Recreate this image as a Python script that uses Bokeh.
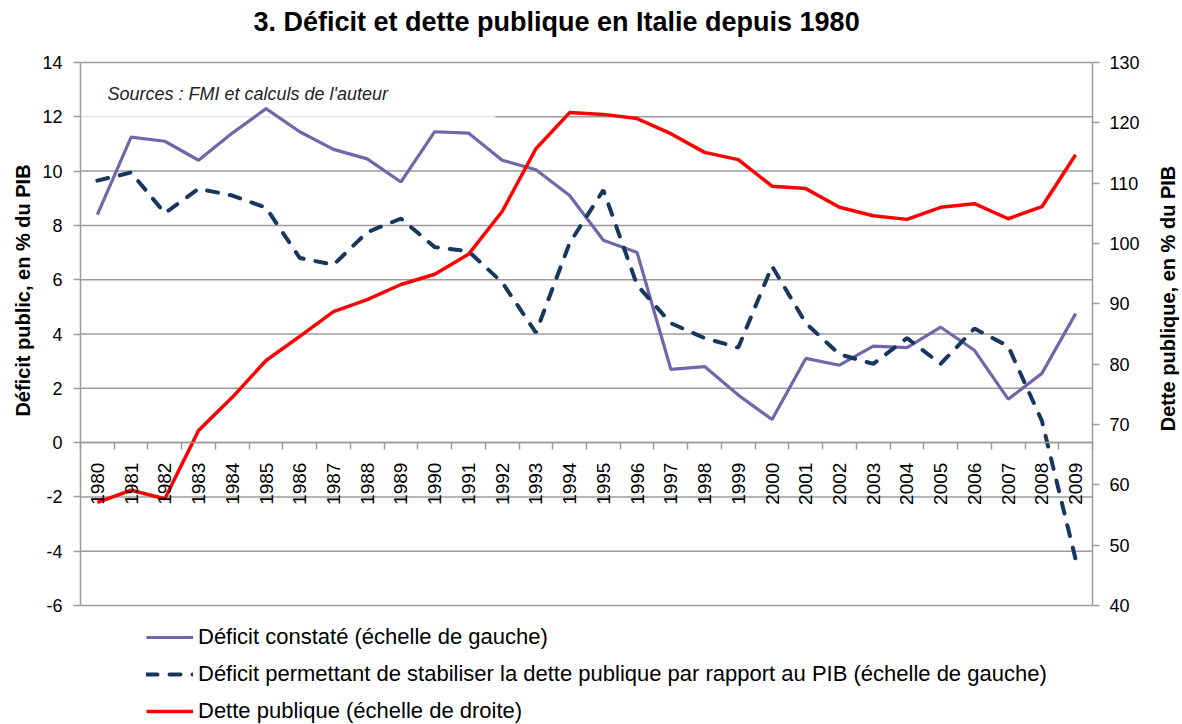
import math
from bokeh.plotting import figure
from bokeh.models import (Range1d, LinearAxis, FixedTicker, Legend, LegendItem,
                          Label, BoxAnnotation)
from bokeh.embed import file_html
from bokeh.resources import INLINE

years = list(range(1980, 2010))
deficit_constate = [8.4, 11.25, 11.1, 10.4, 11.4, 12.3, 11.45, 10.8, 10.45, 9.6,
                    11.45, 11.4, 10.4, 10.05, 9.1, 7.45, 7.0, 2.7, 2.8, 1.75,
                    0.85, 3.1, 2.85, 3.55, 3.5, 4.25, 3.4, 1.6, 2.55, 4.75]
deficit_stabilisant = [9.65, 9.95, 8.45, 9.35, 9.1, 8.65, 6.8, 6.55, 7.75, 8.25,
                       7.2, 7.05, 5.9, 4.05, 7.35, 9.3, 5.8, 4.4, 3.85, 3.5,
                       6.5, 4.4, 3.25, 2.9, 3.85, 2.9, 4.2, 3.55, 0.8, -4.3]
dette_publique = [57.1, 59.1, 57.7, 69.0, 74.5, 80.6, 84.6, 88.7, 90.7, 93.2,
                  94.9, 98.2, 105.3, 115.7, 121.7, 121.4, 120.7, 118.2, 115.1, 113.9,
                  109.5, 109.1, 106.0, 104.6, 104.0, 106.0, 106.6, 104.1, 106.1, 114.7]
left_ticks = [-6, -4, -2, 0, 2, 4, 6, 8, 10, 12, 14]
right_ticks = [40, 50, 60, 70, 80, 90, 100, 110, 120, 130]

title_text = "3. Déficit et dette publique en Italie depuis 1980"
left_label = "Déficit public, en % du PIB"
right_label = "Dette publique, en % du PIB"
source_text = "Sources : FMI et calculs de l'auteur"
legend_labels = ["Déficit constaté (échelle de gauche)",
                 "Déficit permettant de stabiliser la dette publique par rapport au PIB (échelle de gauche)",
                 "Dette publique (échelle de droite)"]

FONT = "Liberation Sans"
GRID = "#9c9c9c"
xs = list(range(len(years)))
n = len(years)

# ---- layout in pixels: the frame covers the whole canvas; the plotting area
# (axes span) goes from x=80..1092 and y=62..605
W, H = 1182, 724
LEFT, RIGHT, TOP, BOTTOM = 80, 1092, 62, 605
x_lo, x_hi = -0.5, n - 0.5
l_lo, l_hi = left_ticks[0], left_ticks[-1]
r_lo, r_hi = right_ticks[0], right_ticks[-1]
sx = (RIGHT - LEFT) / (x_hi - x_lo)
sl = (BOTTOM - TOP) / (l_hi - l_lo)
sr = (BOTTOM - TOP) / (r_hi - r_lo)


def px_x(px):
    return x_lo + (px - LEFT) / sx


def px_y(py):
    return l_hi + (TOP - py) / sl


p = figure(width=W, height=H, output_backend="svg", toolbar_location=None,
           x_range=Range1d(px_x(0), px_x(W)),
           y_range=Range1d(px_y(H), px_y(0)),
           min_border=0, min_border_left=0, min_border_right=0,
           min_border_top=0, min_border_bottom=0)
p.outline_line_color = None
p.background_fill_color = "white"
p.border_fill_color = "white"
p.title.visible = False
p.extra_y_ranges = {"right": Range1d(r_lo - (H - BOTTOM) / sr, r_hi + TOP / sr)}
p.xgrid.visible = False
p.ygrid.visible = False

# ---- x axis, fixed at y = 0
xa = p.xaxis[0]
xa.fixed_location = 0
xa.bounds = (x_lo, x_hi)
xa.ticker = FixedTicker(ticks=xs, minor_ticks=[i - 0.5 for i in range(n + 1)])
xa.major_label_overrides = {i: str(y) for i, y in zip(xs, years)}
xa.major_label_orientation = math.pi / 2
xa.major_tick_out = 0
xa.major_tick_in = 0
xa.minor_tick_out = 7
xa.minor_tick_in = 0
xa.minor_tick_line_color = GRID
xa.minor_tick_line_width = 1.5
xa.axis_line_color = GRID
xa.axis_line_width = 1.5
xa.major_label_standoff = 13
xa.major_label_text_font = FONT
xa.major_label_text_font_size = "19px"
xa.major_label_text_color = "#000000"

# ---- left axis, fixed at left edge of plotting area
ya = p.yaxis[0]
ya.fixed_location = x_lo
ya.bounds = (l_lo, l_hi)
ya.ticker = FixedTicker(ticks=left_ticks)
ya.major_label_overrides = {t: str(t) for t in left_ticks}
ya.major_label_text_font = FONT
ya.major_label_text_font_size = "18px"
ya.major_label_text_color = "#000000"
ya.major_label_standoff = 11
ya.major_tick_out = 7
ya.major_tick_in = 0
ya.minor_tick_out = 0
ya.minor_tick_in = 0
ya.axis_line_color = GRID
ya.axis_line_width = 1.5
ya.major_tick_line_color = GRID
ya.major_tick_line_width = 1.5

# ---- right axis (dette), fixed at right edge of plotting area
ra = LinearAxis(y_range_name="right", ticker=FixedTicker(ticks=right_ticks),
                bounds=(r_lo, r_hi), fixed_location=x_hi)
ra.major_label_text_font = FONT
ra.major_label_text_font_size = "18px"
ra.major_label_text_color = "#000000"
ra.major_label_standoff = 10
ra.major_tick_out = 7
ra.major_tick_in = 0
ra.minor_tick_out = 0
ra.minor_tick_in = 0
ra.axis_line_color = GRID
ra.axis_line_width = 1.5
ra.major_tick_line_color = GRID
ra.major_tick_line_width = 1.5
p.add_layout(ra, "right")

# ---- horizontal grid lines at the left-axis ticks (limited to the plotting area)
p.segment(x0=[x_lo] * len(left_ticks), x1=[x_hi] * len(left_ticks),
          y0=left_ticks, y1=left_ticks, line_color=GRID, line_width=1.5, level="image")

# ---- texts: title, axis titles, source box
p.add_layout(Label(x=px_x(253), y=px_y(21), text=title_text, text_font=FONT,
                   text_font_size="27px", text_font_style="bold", text_color="#000000",
                   text_baseline="middle", text_align="left"))
p.add_layout(Label(x=px_x(22), y=px_y(290), text=left_label, angle=math.pi / 2,
                   text_font=FONT, text_font_size="20px", text_font_style="bold",
                   text_color="#000000", text_align="center", text_baseline="middle"))
p.add_layout(Label(x=px_x(1167), y=px_y(298), text=right_label, angle=math.pi / 2,
                   text_font=FONT, text_font_size="20px", text_font_style="bold",
                   text_color="#000000", text_align="center", text_baseline="middle"))

box = BoxAnnotation(left=x_lo, right=11.8, bottom=11.75, top=13.75,
                    fill_color="white", fill_alpha=0.75, line_alpha=0, level="underlay")
p.add_layout(box)
p.add_layout(Label(x=0.3, y=12.85, text=source_text, text_font=FONT, text_font_size="18px",
                   text_font_style="italic", text_color="#222222", text_baseline="middle"))

# ---- series
r1 = p.line(xs, deficit_constate, line_color="#7266AB", line_width=3.2)
r2 = p.line(xs, deficit_stabilisant, line_color="#17375E", line_width=4,
            line_dash="11 12", line_cap="round")
r3 = p.line(xs, dette_publique, line_color="#FF0000", line_width=3.5,
            y_range_name="right")

legend = Legend(items=[LegendItem(label=legend_labels[0], renderers=[r1]),
                       LegendItem(label=legend_labels[1], renderers=[r2]),
                       LegendItem(label=legend_labels[2], renderers=[r3])],
                location=(146, 0), orientation="vertical",
                padding=0, margin=0, spacing=11, glyph_width=47, glyph_height=20,
                label_height=20, label_standoff=5,
                label_text_font=FONT, label_text_font_size="22px",
                label_text_color="#000000",
                background_fill_alpha=0, border_line_alpha=0)
p.add_layout(legend)

open("out.html", "w").write(file_html(p, INLINE))
